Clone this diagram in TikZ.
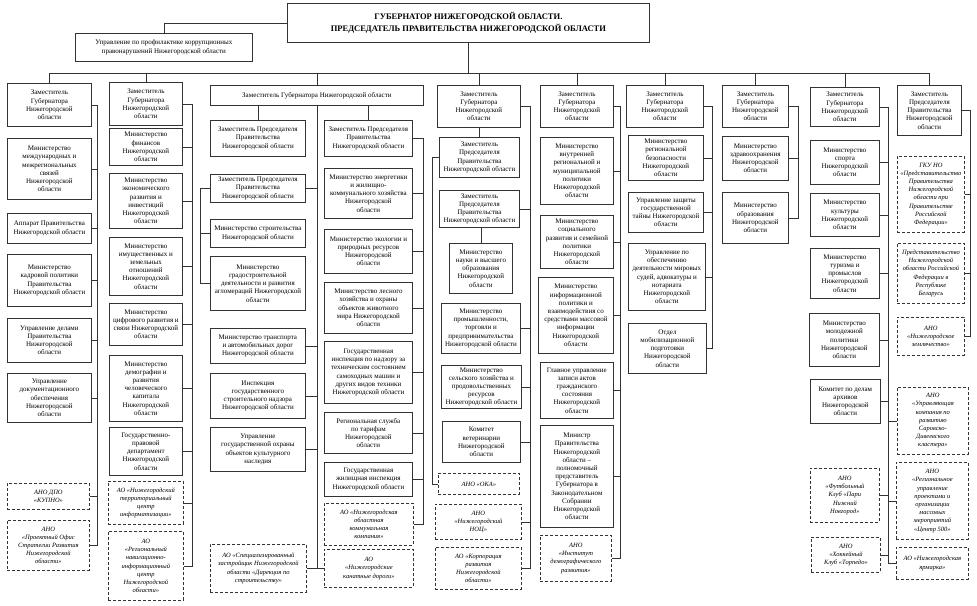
\documentclass[tikz,border=0pt]{standalone}
\usepackage{fontspec}
\setmainfont{Liberation Serif}

\begin{document}
\begin{tikzpicture}[
x=1pt, y=-1pt,
box/.style={draw=black!80, line width=0.8pt, anchor=north west, align=center, inner sep=1pt, font=\fontsize{7}{8.2}\selectfont},
dbox/.style={box, dash pattern=on 3pt off 2pt, font=\fontsize{6.5}{8.2}\selectfont\itshape},
link/.style={draw=black!80, line width=0.8pt}
]
\useasboundingbox (0,0) rectangle (977,605);

\node[box, minimum width=362pt, minimum height=39pt, font=\fontsize{8.5}{12}\selectfont\bfseries] (gov) at (287,3)
{ГУБЕРНАТОР НИЖЕГОРОДСКОЙ ОБЛАСТИ.\\
ПРЕДСЕДАТЕЛЬ ПРАВИТЕЛЬСТВА НИЖЕГОРОДСКОЙ ОБЛАСТИ};

\node[box, minimum width=177pt, minimum height=28pt] (upr) at (75,33)
{Управление по профилактике коррупционных\\
правонарушений Нижегородской области};

% column 1
\node[box, minimum width=84pt, minimum height=43pt] (c1h) at (7,83) {Заместитель\\Губернатора\\Нижегородской\\области};
\node[box, minimum width=84pt, minimum height=61pt] (c1a) at (7,138) {Министерство\\международных и\\межрегиональных\\связей\\Нижегородской\\области};
\node[box, minimum width=84pt, minimum height=30pt] (c1b) at (7,213) {Аппарат Правительства\\Нижегородской области};
\node[box, minimum width=84pt, minimum height=52pt] (c1c) at (7,254) {Министерство\\кадровой политики\\Правительства\\Нижегородской области};
\node[box, minimum width=84pt, minimum height=44pt] (c1d) at (7,318) {Управление делами\\Правительства\\Нижегородской\\области};
\node[box, minimum width=84pt, minimum height=49pt] (c1e) at (7,373) {Управление\\документационного\\обеспечения\\Нижегородской\\области};
\node[dbox, minimum width=82pt, minimum height=26pt] (c1f) at (7,483) {АНО ДПО\\«КУПНО»};
\node[dbox, minimum width=82pt, minimum height=50pt] (c1g) at (7,520) {АНО\\«Проектный Офис\\Стратегии Развития\\Нижегородской\\области»};

% column 2
\node[box, minimum width=73pt, minimum height=43pt] (c2h) at (109,82) {Заместитель\\Губернатора\\Нижегородской\\области};
\node[box, minimum width=73pt, minimum height=37pt] (c2a) at (109,128) {Министерство\\финансов\\Нижегородской\\области};
\node[box, minimum width=73pt, minimum height=55pt] (c2b) at (109,173) {Министерство\\экономического\\развития и\\инвестиций\\Нижегородской\\области};
\node[box, minimum width=73pt, minimum height=58pt] (c2c) at (109,237) {Министерство\\имущественных и\\земельных\\отношений\\Нижегородской\\области};
\node[box, minimum width=73pt, minimum height=42pt] (c2d) at (109,303) {Министерство\\цифрового развития и\\связи Нижегородской\\области};
\node[box, minimum width=73pt, minimum height=66pt] (c2e) at (109,355) {Министерство\\демографии и\\развития\\человеческого\\капитала\\Нижегородской\\области};
\node[box, minimum width=73pt, minimum height=48pt] (c2f) at (109,427) {Государственно-\\правовой\\департамент\\Нижегородской\\области};
\node[dbox, minimum width=75pt, minimum height=43pt] (c2g) at (108,481) {АО «Нижегородский\\территориальный\\центр\\информатизации»};
\node[dbox, minimum width=75pt, minimum height=69pt] (c2i) at (108,531) {АО\\«Региональный\\навигационно-\\информационный\\центр\\Нижегородской\\области»};

% column 3
\node[box, minimum width=213pt, minimum height=20pt] (c3h) at (210,85) {Заместитель Губернатора Нижегородской области};
\node[box, minimum width=95pt, minimum height=36pt] (c3l1) at (210,120) {Заместитель Председателя\\Правительства\\Нижегородской области};
\node[box, minimum width=95pt, minimum height=28pt] (c3l2) at (210,174) {Заместитель Председателя\\Правительства\\Нижегородской области};
\node[box, minimum width=95pt, minimum height=28pt] (c3l3) at (210,219) {Министерство строительства\\Нижегородской области};
\node[box, minimum width=95pt, minimum height=54pt] (c3l4) at (210,256) {Министерство\\градостроительной\\деятельности и развития\\агломераций Нижегородской\\области};
\node[box, minimum width=95pt, minimum height=35pt] (c3l5) at (210,328) {Министерство транспорта\\и автомобильных дорог\\Нижегородской области};
\node[box, minimum width=95pt, minimum height=45pt] (c3l6) at (210,373) {Инспекция\\государственного\\строительного надзора\\Нижегородской области};
\node[box, minimum width=95pt, minimum height=44pt] (c3l7) at (210,427) {Управление\\государственной охраны\\объектов культурного\\наследия};
\node[dbox, minimum width=96pt, minimum height=48pt] (c3l8) at (210,544) {АО «Специализированный\\застройщик Нижегородской\\области «Дирекция по\\строительству»};
\node[box, minimum width=88pt, minimum height=36pt] (c3r1) at (324,120) {Заместитель Председателя\\Правительства\\Нижегородской области};
\node[box, minimum width=88pt, minimum height=50pt] (c3r2) at (324,168) {Министерство энергетики\\и жилищно-\\коммунального хозяйства\\Нижегородской\\области};
\node[box, minimum width=88pt, minimum height=44pt] (c3r3) at (324,229) {Министерство экологии и\\природных ресурсов\\Нижегородской\\области};
\node[box, minimum width=88pt, minimum height=51pt] (c3r4) at (324,282) {Министерство лесного\\хозяйства и охраны\\объектов животного\\мира Нижегородской\\области};
\node[box, minimum width=88pt, minimum height=62pt] (c3r5) at (324,341) {Государственная\\инспекция по надзору за\\техническим состоянием\\самоходных машин и\\других видов техники\\Нижегородской области};
\node[box, minimum width=88pt, minimum height=41pt] (c3r6) at (324,412) {Региональная служба\\по тарифам\\Нижегородской\\области};
\node[box, minimum width=88pt, minimum height=34pt] (c3r7) at (324,462) {Государственная\\жилищная инспекция\\Нижегородской области};
\node[dbox, minimum width=89pt, minimum height=42pt] (c3r8) at (324,503) {АО «Нижегородская\\областная\\коммунальная\\компания»};
\node[dbox, minimum width=89pt, minimum height=38pt] (c3r9) at (324,549) {АО\\«Нижегородские\\канатные дороги»};

% column 4
\node[box, minimum width=83pt, minimum height=42pt] (c4h) at (437,85) {Заместитель\\Губернатора\\Нижегородской\\области};
\node[box, minimum width=80pt, minimum height=40pt] (c4a) at (439,137) {Заместитель\\Председателя\\Правительства\\Нижегородской области};
\node[box, minimum width=80pt, minimum height=37pt] (c4b) at (439,190) {Заместитель\\Председателя\\Правительства\\Нижегородской области};
\node[box, minimum width=63pt, minimum height=50pt] (c4c) at (449,243) {Министерство\\науки и высшего\\образования\\Нижегородской\\области};
\node[box, minimum width=79pt, minimum height=50pt] (c4d) at (441,303) {Министерство\\промышленности,\\торговли и\\предпринимательства\\Нижегородской области};
\node[box, minimum width=80pt, minimum height=43pt] (c4e) at (441,365) {Министерство\\сельского хозяйства и\\продовольственных\\ресурсов\\Нижегородской области};
\node[box, minimum width=78pt, minimum height=41pt] (c4f) at (442,421) {Комитет\\ветеринарии\\Нижегородской\\области};
\node[dbox, minimum width=81pt, minimum height=21pt] (c4g) at (438,473) {АНО «ОКА»};
\node[dbox, minimum width=86pt, minimum height=35pt] (c4i) at (435,504) {АНО\\«Нижегородский\\НОЦ»};
\node[dbox, minimum width=86pt, minimum height=42pt] (c4j) at (435,547) {АО «Корпорация\\развития\\Нижегородской\\области»};

% column 5
\node[box, minimum width=73pt, minimum height=42pt] (c5h) at (540,85) {Заместитель\\Губернатора\\Нижегородской\\области};
\node[box, minimum width=73pt, minimum height=67pt] (c5a) at (540,137) {Министерство\\внутренней\\региональной и\\муниципальной\\политики\\Нижегородской\\области};
\node[box, minimum width=73pt, minimum height=53pt] (c5b) at (540,215) {Министерство\\социального\\развития и семейной\\политики\\Нижегородской\\области};
\node[box, minimum width=75pt, minimum height=76pt] (c5c) at (538,277) {Министерство\\информационной\\политики и\\взаимодействия со\\средствами массовой\\информации\\Нижегородской\\области};
\node[box, minimum width=73pt, minimum height=56pt] (c5d) at (540,362) {Главное управление\\записи актов\\гражданского\\состояния\\Нижегородской\\области};
\node[box, minimum width=73pt, minimum height=102pt] (c5e) at (540,425) {Министр\\Правительства\\Нижегородской\\области –\\полномочный\\представитель\\Губернатора в\\Законодательном\\Собрании\\Нижегородской\\области};
\node[dbox, minimum width=71pt, minimum height=46pt] (c5f) at (540,535) {АНО\\«Институт\\демографического\\развития»};

% column 6
\node[box, minimum width=77pt, minimum height=42pt] (c6h) at (626,85) {Заместитель\\Губернатора\\Нижегородской\\области};
\node[box, minimum width=75pt, minimum height=45pt] (c6a) at (628,135) {Министерство\\региональной\\безопасности\\Нижегородской\\области};
\node[box, minimum width=75pt, minimum height=40pt] (c6b) at (628,192) {Управление защиты\\государственной\\тайны Нижегородской\\области};
\node[box, minimum width=77pt, minimum height=67pt] (c6c) at (628,243) {Управление по\\обеспечению\\деятельности мировых\\судей, адвокатуры и\\нотариата\\Нижегородской\\области};
\node[box, minimum width=78pt, minimum height=50pt] (c6d) at (628,323) {Отдел\\мобилизационной\\подготовки\\Нижегородской\\области};

% column 7
\node[box, minimum width=66pt, minimum height=42pt] (c7h) at (722,85) {Заместитель\\Губернатора\\Нижегородской\\области};
\node[box, minimum width=66pt, minimum height=44pt] (c7a) at (722,136) {Министерство\\здравоохранения\\Нижегородской\\области};
\node[box, minimum width=66pt, minimum height=51pt] (c7b) at (722,192) {Министерство\\образования\\Нижегородской\\области};

% column 8
\node[box, minimum width=69pt, minimum height=39pt] (c8h) at (810,87) {Заместитель\\Губернатора\\Нижегородской\\области};
\node[box, minimum width=69pt, minimum height=44pt] (c8a) at (810,140) {Министерство\\спорта\\Нижегородской\\области};
\node[box, minimum width=69pt, minimum height=43pt] (c8b) at (810,193) {Министерство\\культуры\\Нижегородской\\области};
\node[box, minimum width=69pt, minimum height=50pt] (c8c) at (810,248) {Министерство\\туризма и\\промыслов\\Нижегородской\\области};
\node[box, minimum width=70pt, minimum height=53pt] (c8d) at (809,313) {Министерство\\молодежной\\политики\\Нижегородской\\области};
\node[box, minimum width=70pt, minimum height=44pt] (c8e) at (810,379) {Комитет по делам\\архивов\\Нижегородской\\области};
\node[dbox, minimum width=69pt, minimum height=54pt] (c8f) at (810,468) {АНО\\«Футбольный\\Клуб «Пари\\Нижний\\Новгород»};
\node[dbox, minimum width=69pt, minimum height=35pt] (c8g) at (811,537) {АНО\\«Хоккейный\\Клуб «Торпедо»};

% column 9
\node[box, minimum width=64pt, minimum height=50pt] (c9h) at (897,85) {Заместитель\\Председателя\\Правительства\\Нижегородской\\области};
\node[dbox, minimum width=67pt, minimum height=76pt] (c9a) at (897,156) {ГКУ НО\\«Представительство\\Правительства\\Нижегородской\\области при\\Правительстве\\Российской\\Федерации»};
\node[dbox, minimum width=67pt, minimum height=60pt] (c9b) at (897,243) {Представительство\\Нижегородской\\области Российской\\Федерации в\\Республике\\Беларусь};
\node[dbox, minimum width=67pt, minimum height=38pt] (c9c) at (897,317) {АНО\\«Нижегородское\\землячество»};
\node[dbox, minimum width=71pt, minimum height=67pt] (c9d) at (897,387) {АНО\\«Управляющая\\компания по\\развитию\\Саровско-\\Дивеевского\\кластера»};
\node[dbox, minimum width=72pt, minimum height=77pt] (c9e) at (896,462) {АНО\\«Региональное\\управление\\проектами и\\организации\\массовых\\мероприятий\\«Центр 500»};
\node[dbox, minimum width=72pt, minimum height=32pt] (c9f) at (896,547) {АО «Нижегородская\\ярмарка»};

% connectors
\coordinate (bus) at (0,73);
\coordinate (v1) at (97,0);
\coordinate (v2) at (192,0);
\coordinate (v3l) at (200,0);
\coordinate (v3r) at (423,0);
\coordinate (v4l) at (432,0);
\coordinate (v4r) at (530,0);
\coordinate (v5) at (620,0);
\coordinate (v6) at (712,0);
\coordinate (v7) at (798,0);
\coordinate (v8) at (888,0);
\coordinate (v9) at (970,0);

\draw[link] (gov.west) -| (upr.north);
\draw[link] (gov.south) -- (gov.south |- bus);
\draw[link] (c1h.north |- bus) -- (c9h.north |- bus);
\foreach \n in {c1h,c2h,c3h,c4h,c5h,c6h,c7h,c8h,c9h}
  \draw[link] (\n.north) -- (\n.north |- bus);

\draw[link] (c1h.east) -- (c1h.east -| v1) -- (c1g.east -| v1) -- (c1g.east);
\foreach \n in {c1a,c1b,c1c,c1d,c1e,c1f}
  \draw[link] (\n.east) -- (\n.east -| v1);

\draw[link] (c2h.east) -- (c2h.east -| v2) -- (c2i.east -| v2) -- (c2i.east);
\foreach \n in {c2a,c2b,c2c,c2d,c2e,c2f,c2g}
  \draw[link] (\n.east) -- (\n.east -| v2);

\draw[link] (c3l1.north) -- (c3l1.north |- c3h.south);
\draw[link] (c3r1.north) -- (c3r1.north |- c3h.south);
\draw[link] (c3h.south) -- (c3h.south |- c3l8.east);
\foreach \n in {c3l2,c3l5,c3l6,c3l7,c3l8}
  \draw[link] (\n.east) -- (\n.east -| c3h.south);
\draw[link] (c3r9.west) -- (c3r9.west -| c3h.south);
\draw[link] (c3l2.west) -- (c3l2.west -| v3l) -- (c3l4.west -| v3l) -- (c3l4.west);
\draw[link] (c3l3.west) -- (c3l3.west -| v3l);
\draw[link] (c3r1.east) -- (c3r1.east -| v3r) -- (c3r8.east -| v3r) -- (c3r8.east);
\foreach \n in {c3r2,c3r3,c3r4,c3r5,c3r6,c3r7}
  \draw[link] (\n.east) -- (\n.east -| v3r);

\draw[link] (c4a.north) -- (c4a.north |- c4h.south);
\draw[link] (c4c.north) -- (c4c.north |- c4b.south);
\draw[link] (c4a.west) -- (c4a.west -| v4l) -- (c4g.west -| v4l) -- (c4g.west);
\draw[link] (c4h.east) -- (c4h.east -| v4r) -- (c4j.east -| v4r) -- (c4j.east);
\foreach \n in {c4b,c4d,c4e,c4f,c4i}
  \draw[link] (\n.east) -- (\n.east -| v4r);

\draw[link] (c5h.east) -- (c5h.east -| v5) -- (c5f.east -| v5) -- (c5f.east);
\foreach \n in {c5a,c5b,c5c,c5d,c5e}
  \draw[link] (\n.east) -- (\n.east -| v5);

\draw[link] (c6h.east) -- (c6h.east -| v6) -- (c6d.east -| v6) -- (c6d.east);
\foreach \n in {c6a,c6b,c6c}
  \draw[link] (\n.east) -- (\n.east -| v6);

\draw[link] (c7h.east) -- (c7h.east -| v7) -- (c7b.east -| v7) -- (c7b.east);
\draw[link] (c7a.east) -- (c7a.east -| v7);

\draw[link] (c8h.east) -- (c8h.east -| v8) -- (c9f.west -| v8) -- (c9f.west);
\foreach \n in {c8a,c8b,c8c,c8d,c8e,c8f,c8g}
  \draw[link] (\n.east) -- (\n.east -| v8);
\foreach \n in {c9d,c9e}
  \draw[link] (\n.west) -- (\n.west -| v8);

\draw[link] (c9h.east) -- (c9h.east -| v9) -- (c9c.east -| v9) -- (c9c.east);
\foreach \n in {c9a,c9b}
  \draw[link] (\n.east) -- (\n.east -| v9);

\end{tikzpicture}
\end{document}
